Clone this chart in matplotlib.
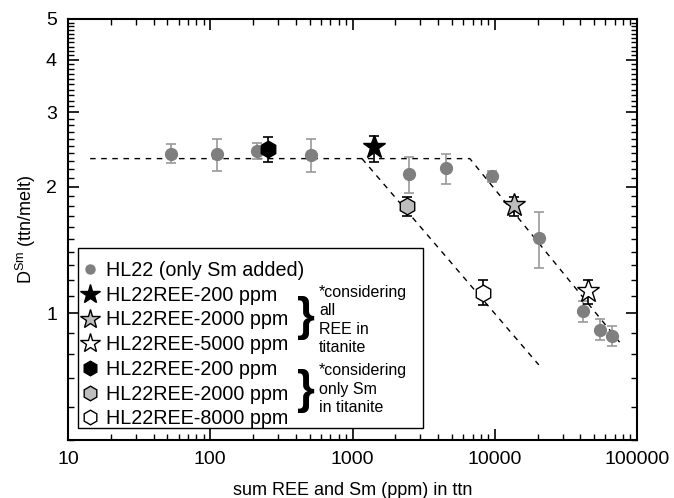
import matplotlib
matplotlib.use("Agg")
import matplotlib.pyplot as plt
from matplotlib.lines import Line2D
from matplotlib.patches import Rectangle
from matplotlib.ticker import FixedLocator, NullFormatter, FixedFormatter
import numpy as np

plt.rcParams['font.family'] = ['Liberation Sans', 'DejaVu Sans']

# HL22 (only Sm added)
hl22_x = [53, 111, 213, 510, 2500, 4510, 9550, 20500, 41600, 55100, 66800]
hl22_y = [2.39, 2.39, 2.43, 2.38, 2.14, 2.21, 2.115, 1.51, 1.01, 0.914, 0.884]
hl22_lo = [2.27, 2.18, 2.33, 2.17, 1.93, 2.03, 2.05, 1.28, 0.954, 0.865, 0.835]
hl22_hi = [2.52, 2.59, 2.54, 2.59, 2.35, 2.39, 2.18, 1.74, 1.07, 0.968, 0.934]

# stars: considering all REE in titanite
star_labels = ['HL22REE-200 ppm', 'HL22REE-2000 ppm', 'HL22REE-5000 ppm']
star_x = [1406, 13550, 45600]
star_y = [2.48, 1.805, 1.13]
star_lo = [2.29, 1.70, 1.05]
star_hi = [2.63, 1.89, 1.20]
star_fill = ['black', '#bdbdbd', 'white']

# hexagons: considering only Sm in titanite
hex_labels = ['HL22REE-200 ppm', 'HL22REE-2000 ppm', 'HL22REE-8000 ppm']
hex_x = [254, 2410, 8240]
hex_y = [2.46, 1.80, 1.12]
hex_lo = [2.29, 1.70, 1.045]
hex_hi = [2.62, 1.89, 1.20]
hex_fill = ['black', '#bdbdbd', 'white']

# dashed trend lines
lineA_x = [14.3, 6680, 79400]
lineA_y = [2.33, 2.33, 0.836]
lineB_x = [1165, 20400]
lineB_y = [2.33, 0.754]

fig = plt.figure(figsize=(6.74, 4.98), dpi=100)
ax = fig.add_axes([68/674, 1-440/498, (637-68)/674, (440-19)/498])
ax.set_xscale('log')
ax.set_yscale('log')
ax.set_xlim(10, 100000)
ax.set_ylim(0.5, 5)

ax.plot(lineA_x, lineA_y, color='black', lw=1.0, ls=(0, (4, 4)), zorder=2)
ax.plot(lineB_x, lineB_y, color='black', lw=1.0, ls=(0, (4, 4)), zorder=2)

gray = '#7f7f7f'
ebc = '#9a9a9a'
y = np.array(hl22_y)
ax.errorbar(hl22_x, hl22_y, yerr=[y - np.array(hl22_lo), np.array(hl22_hi) - y],
            fmt='o', ms=8.5, mfc=gray, mec=gray, ecolor=ebc, elinewidth=1.2,
            capsize=3.5, capthick=1.2, zorder=3)

for xs, ys, lo, hi, fc in zip(star_x, star_y, star_lo, star_hi, star_fill):
    ax.errorbar([xs], [ys], yerr=[[ys - lo], [hi - ys]], fmt='none', ecolor='black',
                elinewidth=1.2, capsize=3.5, capthick=1.2, zorder=4)
    ax.plot([xs], [ys], marker='*', ms=17, mfc=fc, mec='black', mew=1.0, ls='none', zorder=5)

for xs, ys, lo, hi, fc in zip(hex_x, hex_y, hex_lo, hex_hi, hex_fill):
    ax.errorbar([xs], [ys], yerr=[[ys - lo], [hi - ys]], fmt='none', ecolor='black',
                elinewidth=1.2, capsize=3.5, capthick=1.2, zorder=4)
    ax.plot([xs], [ys], marker='h', ms=12, mfc=fc, mec='black', mew=1.0, ls='none', zorder=5)

# ticks
ax.yaxis.set_major_locator(FixedLocator([1, 2, 3, 4, 5]))
ax.yaxis.set_major_formatter(FixedFormatter(['1', '2', '3', '4', '5']))
minors = [v / 10 for v in range(5, 51) if v % 10 != 0]
ax.yaxis.set_minor_locator(FixedLocator(minors))
ax.yaxis.set_minor_formatter(NullFormatter())
ax.xaxis.set_major_locator(FixedLocator([10, 100, 1000, 10000, 100000]))
ax.xaxis.set_major_formatter(FixedFormatter(['10', '100', '1000', '10000', '100000']))
ax.xaxis.set_minor_locator(FixedLocator([m * 10**d for d in range(1, 5) for m in range(2, 10)]))
ax.xaxis.set_minor_formatter(NullFormatter())
ax.tick_params(which='both', direction='in', top=True, right=True, labelsize=14, pad=8)
ax.tick_params(which='major', length=8, width=1.2)
ax.tick_params(which='minor', length=4.5, width=1.0)
for s in ax.spines.values():
    s.set_linewidth(1.5)

ax.set_xlabel('sum REE and Sm (ppm) in ttn', fontsize=13, labelpad=10)
ax.set_ylabel(r'$\mathregular{D^{Sm}}$ (ttn/melt)', fontsize=13, labelpad=6)

# legend box
ax.add_patch(Rectangle((10/569, (440-428)/421), (423-78)/569, (428-248)/421,
                       transform=ax.transAxes, fc='white', ec='black', lw=1.0, zorder=6))

handles = [Line2D([], [], marker='o', ls='none', ms=6.5, mfc=gray, mec=gray)]
labels = ['HL22 (only Sm added)']
for lab, fc in zip(star_labels, star_fill):
    handles.append(Line2D([], [], marker='*', ls='none', ms=15, mfc=fc, mec='black', mew=1.0))
    labels.append(lab)
for lab, fc in zip(hex_labels, hex_fill):
    handles.append(Line2D([], [], marker='h', ls='none', ms=10.5, mfc=fc, mec='black', mew=1.0))
    labels.append(lab)
leg = ax.legend(handles, labels, loc='upper left', frameon=False, fontsize=14.2,
                bbox_to_anchor=((80-68)/569, (440-261)/421), handlelength=1.0,
                handletextpad=0.3, labelspacing=0.29, borderpad=0.0, borderaxespad=0.0)
leg.set_zorder(7)

def fx(px):
    return (px - 68) / 569

def fy(py):
    return (440 - py) / 421

ax.text(fx(306), fy(318), '}', transform=ax.transAxes, fontsize=33, fontweight='bold',
        ha='center', va='center', zorder=8)
ax.text(fx(306), fy(391), '}', transform=ax.transAxes, fontsize=33, fontweight='bold',
        ha='center', va='center', zorder=8)
ax.text(fx(319), fy(320), '*considering\nall\nREE in\ntitanite', transform=ax.transAxes,
        fontsize=11.5, ha='left', va='center', linespacing=1.3, zorder=8)
ax.text(fx(319), fy(389), '*considering\nonly Sm\nin titanite', transform=ax.transAxes,
        fontsize=11.5, ha='left', va='center', linespacing=1.3, zorder=8)

fig.savefig('out.png', dpi=100)
